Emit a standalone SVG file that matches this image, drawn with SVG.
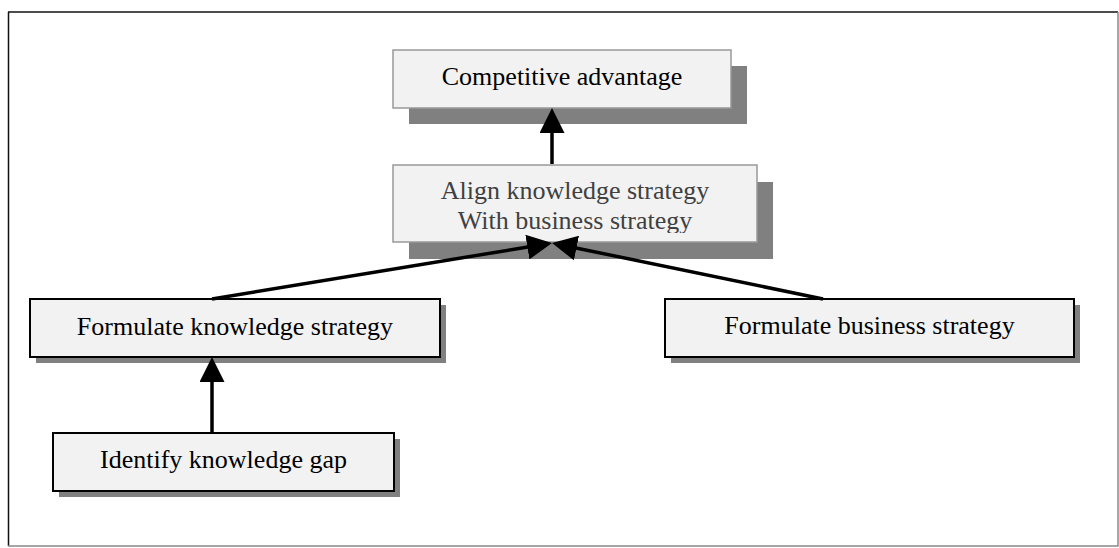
<svg xmlns="http://www.w3.org/2000/svg" width="1119" height="548" viewBox="0 0 1119 548">
<style>
.bx{fill:#f2f2f2}
.sh{fill:#808080}
.gb{stroke:#999999;stroke-width:1.5}
.kb{stroke:#000000;stroke-width:2}
text{font-family:'Liberation Serif','DejaVu Serif',serif;font-size:26px;fill:#000;text-anchor:middle}
.tg{fill:#404040}
.c{stroke:#000;stroke-width:3.5;fill:none;marker-end:url(#ah)}
</style>
<defs>
<marker id="ah" markerUnits="userSpaceOnUse" markerWidth="25" markerHeight="25" refX="13" refY="12.5" orient="auto" viewBox="0 0 25 25">
<path d="M0,0 L25,12.5 L0,25 z" fill="#000"/>
</marker>
<clipPath id="clipAlign"><rect x="393" y="165" width="364" height="68"/></clipPath>
</defs>
<rect x="0" y="0" width="1119" height="548" fill="#fff"/>
<g id="frame">
<line x1="8" y1="12" x2="1118" y2="12" stroke="#111" stroke-width="1.5"/>
<line x1="8.5" y1="12" x2="8.5" y2="546" stroke="#111" stroke-width="1.5"/>
<line x1="1118" y1="12" x2="1118" y2="546.5" stroke="#888" stroke-width="1.5"/>
<line x1="8" y1="546" x2="1118" y2="546" stroke="#888" stroke-width="1.5"/>
</g>
<g id="node-competitive">
<rect class="sh" x="409" y="66" width="338" height="58"/>
<rect class="bx gb" x="393" y="50" width="338" height="58"/>
<text font-family="Liberation Serif" x="562" y="85">Competitive advantage</text>
</g>
<g id="node-align">
<rect class="sh" x="409" y="182" width="364" height="77"/>
<rect class="bx gb" x="393" y="165" width="364" height="77"/>
<g clip-path="url(#clipAlign)">
<text class="tg" font-family="Liberation Serif" x="575" y="199">Align knowledge strategy</text>
<text class="tg" font-family="Liberation Serif" x="575" y="229">With business strategy</text>
</g>
</g>
<g id="node-formulate-knowledge">
<rect class="sh" x="36" y="305" width="410" height="58"/>
<rect class="bx kb" x="30" y="299" width="410" height="58"/>
<text font-family="Liberation Serif" x="235" y="335">Formulate knowledge strategy</text>
</g>
<g id="node-formulate-business">
<rect class="sh" x="671" y="305" width="409" height="58"/>
<rect class="bx kb" x="665" y="299" width="409" height="58"/>
<text font-family="Liberation Serif" x="869.5" y="334">Formulate business strategy</text>
</g>
<g id="node-identify">
<rect class="sh" x="59" y="439" width="341" height="58"/>
<rect class="bx kb" x="53" y="433" width="341" height="58"/>
<text font-family="Liberation Serif" x="223.5" y="468">Identify knowledge gap</text>
</g>
<g id="connectors">
<line class="c" x1="212" y1="432" x2="212" y2="369"/>
<line class="c" x1="552" y1="164" x2="552" y2="120"/>
<line class="c" x1="212" y1="299" x2="540.2" y2="244.95"/>
<line class="c" x1="823" y1="299" x2="563.75" y2="245.43"/>
</g>
</svg>
